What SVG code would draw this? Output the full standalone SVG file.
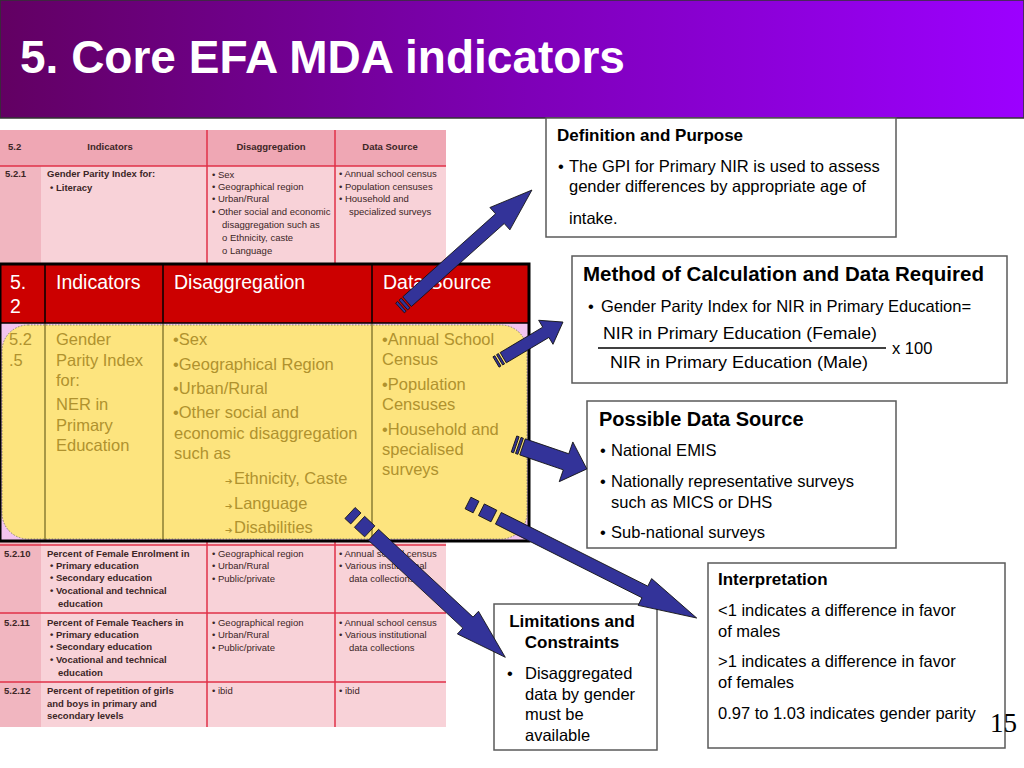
<svg xmlns="http://www.w3.org/2000/svg" width="1024" height="768" viewBox="0 0 1024 768">
<defs>
<linearGradient id="tg" x1="0" y1="0" x2="1" y2="0">
<stop offset="0" stop-color="#620062"/><stop offset="0.5" stop-color="#7d00b5"/><stop offset="1" stop-color="#9c00ff"/>
</linearGradient>
</defs>
<style>
.bt{font-family:"Liberation Sans",Arial,sans-serif;font-size:9.5px;fill:#3c2626}
.bb{font-weight:bold}
.hd{font-family:"Liberation Sans",Arial,sans-serif;font-size:19.5px;fill:#fff}
.yt{font-family:"Liberation Sans",Arial,sans-serif;font-size:16.5px;fill:#b0922e}
.ar{font-family:"DejaVu Sans",sans-serif;font-size:9px;fill:#b0922e}
.box{fill:#fff;stroke:#5a5a5a;stroke-width:1.5}
.tx{font-family:"Liberation Sans",Arial,sans-serif;font-size:16.5px;fill:#000}
.tb{font-family:"Liberation Sans",Arial,sans-serif;font-weight:bold;fill:#000}
.arrow{fill:#333399;stroke:#111;stroke-width:0.8}
.rl{stroke:#e03048;stroke-width:1.5}
.vl{stroke:#6e6420;stroke-width:1.2}
</style>
<rect width="1024" height="768" fill="#fff"/>
<g id="title">
<rect x="0" y="0" width="1024" height="118" fill="url(#tg)" stroke="#333" stroke-width="1.5"/>
<text x="20" y="73" font-family="Liberation Sans,Arial,sans-serif" font-weight="bold" font-size="46" fill="#fff">5. Core EFA MDA indicators</text>
</g>
<g id="bg-table">
<rect x="0" y="130" width="446" height="597" fill="#f8d2d8"/>
<rect x="0" y="166" width="41" height="561" fill="#f1b6c0"/>
<rect x="0" y="130" width="446" height="36" fill="#efa7b4"/>
<line class="rl" x1="0" y1="166" x2="446" y2="166"/>
<line class="rl" x1="0" y1="545" x2="446" y2="545"/>
<line class="rl" x1="0" y1="613" x2="446" y2="613"/>
<line class="rl" x1="0" y1="682" x2="446" y2="682"/>
<line class="rl" x1="207" y1="130" x2="207" y2="727"/>
<line class="rl" x1="335" y1="130" x2="335" y2="727"/>
<text class="bt bb" x="8" y="150">5.2</text>
<text class="bt bb" x="110" y="150" text-anchor="middle">Indicators</text>
<text class="bt bb" x="271" y="150" text-anchor="middle">Disaggregation</text>
<text class="bt bb" x="390" y="150" text-anchor="middle">Data Source</text>
<text class="bt bb" x="5" y="177">5.2.1</text>
<text class="bt bb" x="47" y="177">Gender Parity Index  for:</text>
<text class="bt bb" x="50" y="191">• Literacy</text>
<text class="bt" x="212" y="178">• Sex</text>
<text class="bt" x="212" y="190">• Geographical region</text>
<text class="bt" x="212" y="202">• Urban/Rural</text>
<text class="bt" x="212" y="215">• Other social and economic</text>
<text class="bt" x="222" y="228">disaggregation such as</text>
<text class="bt" x="222" y="241">o Ethnicity, caste</text>
<text class="bt" x="222" y="254">o Language</text>
<text class="bt" x="339" y="177">• Annual school census</text>
<text class="bt" x="339" y="190">• Population censuses</text>
<text class="bt" x="339" y="202">• Household and</text>
<text class="bt" x="349" y="215">specialized surveys</text>
<text class="bt bb" x="4" y="557">5.2.10</text>
<text class="bt bb" x="47" y="557">Percent of Female Enrolment in</text>
<text class="bt bb" x="50" y="569">• Primary education</text>
<text class="bt bb" x="50" y="581">• Secondary education</text>
<text class="bt bb" x="50" y="594">• Vocational and technical</text>
<text class="bt bb" x="58" y="607">education</text>
<text class="bt" x="212" y="557">• Geographical region</text>
<text class="bt" x="212" y="569">• Urban/Rural</text>
<text class="bt" x="212" y="582">• Public/private</text>
<text class="bt" x="339" y="557">• Annual school census</text>
<text class="bt" x="339" y="569">• Various institutional</text>
<text class="bt" x="349" y="582">data collections</text>
<text class="bt bb" x="4" y="626">5.2.11</text>
<text class="bt bb" x="47" y="626">Percent of Female Teachers in</text>
<text class="bt bb" x="50" y="638">• Primary education</text>
<text class="bt bb" x="50" y="650">• Secondary education</text>
<text class="bt bb" x="50" y="663">• Vocational and technical</text>
<text class="bt bb" x="58" y="676">education</text>
<text class="bt" x="212" y="626">• Geographical region</text>
<text class="bt" x="212" y="638">• Urban/Rural</text>
<text class="bt" x="212" y="651">• Public/private</text>
<text class="bt" x="339" y="626">• Annual school census</text>
<text class="bt" x="339" y="638">• Various institutional</text>
<text class="bt" x="349" y="651">data collections</text>
<text class="bt bb" x="4" y="694">5.2.12</text>
<text class="bt bb" x="47" y="694">Percent of repetition of girls</text>
<text class="bt bb" x="47" y="707">and boys in primary and</text>
<text class="bt bb" x="47" y="719">secondary levels</text>
<text class="bt" x="212" y="694">• ibid</text>
<text class="bt" x="339" y="694">• ibid</text>
</g>
<g id="overlay-table">
<rect x="0" y="264" width="529" height="59" fill="#cc0000"/>
<rect x="0" y="323" width="529" height="218" fill="#f3c4ef"/>
<rect x="2" y="325" width="525" height="214" rx="26" fill="#fde47e" stroke="#8a8a6a" stroke-width="1" stroke-dasharray="1.5,1.5"/>
<line x1="45" y1="264" x2="45" y2="323" stroke="#000" stroke-width="1.5"/>
<line x1="163" y1="264" x2="163" y2="323" stroke="#000" stroke-width="1.5"/>
<line x1="372" y1="264" x2="372" y2="323" stroke="#000" stroke-width="1.5"/>
<line class="vl" x1="45" y1="323" x2="45" y2="541"/>
<line class="vl" x1="163" y1="323" x2="163" y2="541"/>
<line class="vl" x1="372" y1="323" x2="372" y2="541"/>
<line x1="0" y1="323" x2="529" y2="323" stroke="#000" stroke-width="1.5"/>
<rect x="0" y="264" width="529" height="277" fill="none" stroke="#000" stroke-width="3"/>
<text class="hd" x="10" y="289">5.</text>
<text class="hd" x="10" y="313">2</text>
<text class="hd" x="56" y="289">Indicators</text>
<text class="hd" x="174" y="289">Disaggregation</text>
<text class="hd" x="383" y="289">Data Source</text>
<text class="yt" x="9" y="345">5.2</text>
<text class="yt" x="9" y="366">.5</text>
<text class="yt" x="56" y="345">Gender</text>
<text class="yt" x="56" y="366">Parity Index</text>
<text class="yt" x="56" y="386">for:</text>
<text class="yt" x="56" y="410">NER in</text>
<text class="yt" x="56" y="431">Primary</text>
<text class="yt" x="56" y="451">Education</text>
<text class="yt" x="173" y="345">•Sex</text>
<text class="yt" x="173" y="370">•Geographical Region</text>
<text class="yt" x="173" y="394">•Urban/Rural</text>
<text class="yt" x="173" y="418">•Other social and</text>
<text class="yt" x="174" y="439">economic disaggregation</text>
<text class="yt" x="174" y="459">such as</text>
<text class="ar" x="225" y="484">➔</text><text class="yt" x="234" y="484">Ethnicity, Caste</text>
<text class="ar" x="225" y="509">➔</text><text class="yt" x="234" y="509">Language</text>
<text class="ar" x="225" y="533">➔</text><text class="yt" x="234" y="533">Disabilities</text>
<text class="yt" x="382" y="345">•Annual School</text>
<text class="yt" x="382" y="365">Census</text>
<text class="yt" x="382" y="390">•Population</text>
<text class="yt" x="382" y="410">Censuses</text>
<text class="yt" x="382" y="435">•Household and</text>
<text class="yt" x="382" y="455">specialised</text>
<text class="yt" x="382" y="475">surveys</text>
</g>
<g id="definition">
<rect class="box" x="546" y="118" width="350" height="119"/>
<text class="tb" x="557" y="141" font-size="17">Definition and Purpose</text>
<text class="tx" x="558" y="172">•</text>
<text class="tx" x="569" y="172">The GPI for Primary NIR is used to assess</text>
<text class="tx" x="569" y="192">gender differences by appropriate age of</text>
<text class="tx" x="569" y="224">intake.</text>
</g>
<g id="method">
<rect class="box" x="572" y="256" width="435" height="127"/>
<text class="tb" x="583" y="281" font-size="20.5">Method of Calculation and Data Required</text>
<text class="tx" x="588" y="312">•</text>
<text class="tx" x="601" y="312">Gender Parity Index for NIR in Primary Education=</text>
<text class="tx" x="603" y="339" font-size="17.5" textLength="274" lengthAdjust="spacingAndGlyphs">NIR in Primary Education (Female)</text>
<line x1="598" y1="348" x2="886" y2="348" stroke="#000" stroke-width="1.5"/>
<text class="tx" x="610" y="368" font-size="17.5" textLength="258" lengthAdjust="spacingAndGlyphs">NIR in Primary Education (Male)</text>
<text class="tx" x="892" y="354" font-size="17">x 100</text>
</g>
<g id="data-source">
<rect class="box" x="587" y="401" width="309" height="147"/>
<text class="tb" x="599" y="426" font-size="20">Possible Data Source</text>
<text class="tx" x="600" y="456">•</text>
<text class="tx" x="611" y="456">National EMIS</text>
<text class="tx" x="600" y="487">•</text>
<text class="tx" x="611" y="487">Nationally representative surveys</text>
<text class="tx" x="611" y="508">such as MICS or DHS</text>
<text class="tx" x="600" y="538">•</text>
<text class="tx" x="611" y="538">Sub-national surveys</text>
</g>
<g id="interpretation">
<rect class="box" x="708" y="563" width="297" height="185"/>
<text class="tb" x="718" y="585" font-size="17">Interpretation</text>
<text class="tx" x="718" y="616">&lt;1 indicates a difference in favor</text>
<text class="tx" x="718" y="637">of males</text>
<text class="tx" x="718" y="667">&gt;1 indicates a difference in favor</text>
<text class="tx" x="718" y="688">of females</text>
<text class="tx" x="718" y="719">0.97 to 1.03 indicates gender parity</text>
</g>
<g id="limitations">
<rect class="box" x="494" y="604" width="163" height="146"/>
<text class="tb" x="572" y="627" font-size="17" text-anchor="middle">Limitations and</text>
<text class="tb" x="572" y="648" font-size="17" text-anchor="middle">Constraints</text>
<text class="tx" x="507" y="679">•</text>
<text class="tx" x="525" y="679">Disaggregated</text>
<text class="tx" x="525" y="700">data by gender</text>
<text class="tx" x="525" y="720">must be</text>
<text class="tx" x="525" y="741">available</text>
</g>
<g id="connectors">
<g transform="translate(400,308) rotate(-41.8)">
<rect class="arrow" x="0" y="-6.5" width="2.5" height="13"/>
<rect class="arrow" x="4.5" y="-6.5" width="3" height="13"/>
<path class="arrow" d="M9.5,-6.5 L134,-6.5 L134,-15 L177,0 L134,15 L134,6.5 L9.5,6.5 Z"/>
</g>
<g transform="translate(496,362) rotate(-30.8)">
<rect class="arrow" x="0" y="-6" width="2.2" height="12"/>
<rect class="arrow" x="4.2" y="-6" width="2.2" height="12"/>
<path class="arrow" d="M8.4,-6 L58,-6 L58,-14 L78,0 L58,14 L58,6 L8.4,6 Z"/>
</g>
<g transform="translate(514,444) rotate(18.9)">
<rect class="arrow" x="0" y="-8.5" width="2.5" height="17"/>
<rect class="arrow" x="4.5" y="-8.5" width="2.5" height="17"/>
<path class="arrow" d="M9,-8.5 L55,-8.5 L55,-21 L77,0 L55,21 L55,8.5 L9,8.5 Z"/>
</g>
<g transform="translate(468,503) rotate(26.7)">
<rect class="arrow" x="0" y="-6.5" width="9" height="13"/>
<rect class="arrow" x="15" y="-6.5" width="14" height="13"/>
<path class="arrow" d="M34,-6.5 L198,-6.5 L198,-15 L256,0 L198,15 L198,6.5 L34,6.5 Z"/>
</g>
<g transform="translate(350,513) rotate(42.9)">
<rect class="arrow" x="0" y="-7.5" width="8" height="15"/>
<rect class="arrow" x="13" y="-7.5" width="14" height="15"/>
<path class="arrow" d="M32,-7.5 L161,-7.5 L161,-15.5 L212,0 L161,15.5 L161,7.5 L32,7.5 Z"/>
</g>
</g>
<text x="990" y="732" font-family="Liberation Serif,Times New Roman,serif" font-size="27" fill="#000">15</text>
</svg>
